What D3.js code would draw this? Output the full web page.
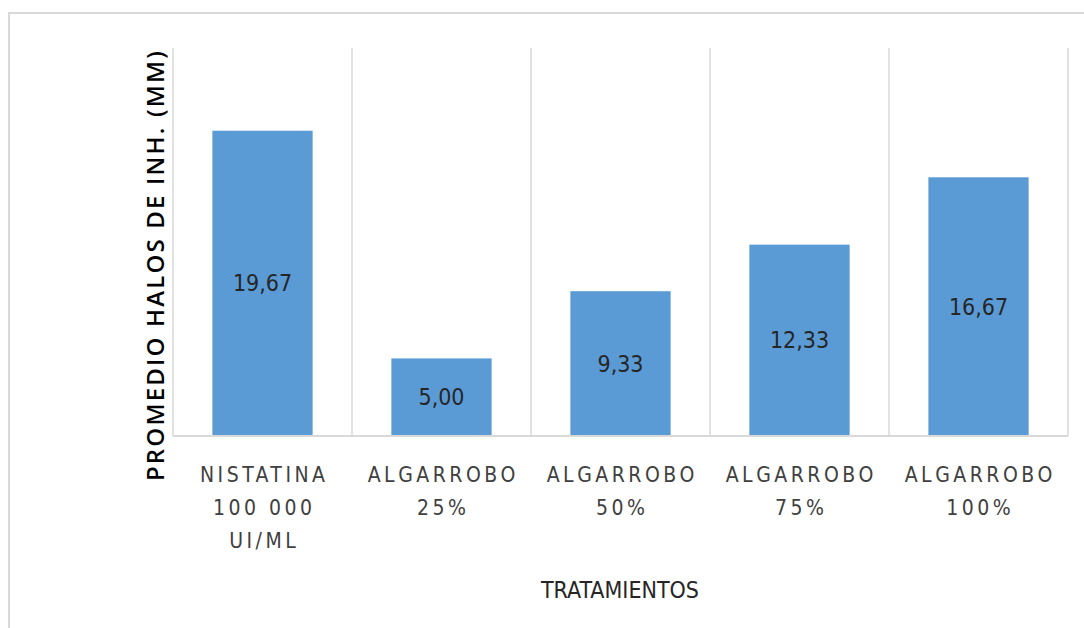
<!DOCTYPE html>
<html><head><meta charset="utf-8">
<script src="https://cdn.jsdelivr.net/npm/d3@7"></script>
<style>body{margin:0;background:#fff;} svg{display:block;}</style>
</head><body><svg id="c" width="1084" height="628"></svg>
<script>
const categories = [["NISTATINA","100 000","UI/ML"],["ALGARROBO","25%"],["ALGARROBO","50%"],["ALGARROBO","75%"],["ALGARROBO","100%"]];
const values = [19.67, 5.00, 9.33, 12.33, 16.67];
const valueLabels = ["19,67","5,00","9,33","12,33","16,67"];
const yTitle = "PROMEDIO HALOS DE INH. (MM)";
const xTitle = "TRATAMIENTOS";

const svg = d3.select("#c");
const font = "'Liberation Sans Narrow','DejaVu Sans Condensed',sans-serif";
// frame
svg.append("rect").attr("x",9).attr("y",13).attr("width",1090).attr("height",640)
  .attr("fill","none").attr("stroke","#d9d9d9").attr("stroke-width",2);

const m = {l:173, r:1068, t:48, b:436};
const x = d3.scaleBand().domain(d3.range(categories.length)).range([m.l,m.r]).paddingInner(0.44).paddingOuter(0.22);
const y = d3.scaleLinear().domain([0,25]).range([m.b,m.t]);

// category separators
const edges = d3.range(categories.length+1).map(i => m.l + i*(m.r-m.l)/categories.length);
svg.append("g").selectAll("line").data(edges).join("line")
  .attr("x1",d=>d).attr("x2",d=>d).attr("y1",m.t).attr("y2",m.b)
  .attr("stroke","#d9d9d9").attr("stroke-width",1.5);

svg.append("g").selectAll("rect").data(values).join("rect")
  .attr("x",(d,i)=>x(i)).attr("width",x.bandwidth())
  .attr("y",d=>y(d)).attr("height",d=>m.b-y(d)).attr("fill","#5b9bd5");

svg.append("line").attr("x1",m.l).attr("x2",m.r).attr("y1",m.b).attr("y2",m.b)
  .attr("stroke","#d9d9d9").attr("stroke-width",2);

svg.append("g").selectAll("text").data(values).join("text")
  .attr("x",(d,i)=>x(i)+x.bandwidth()/2).attr("y",d=>(y(d)+m.b)/2)
  .attr("text-anchor","middle").attr("dominant-baseline","central")
  .attr("font-family",font).attr("font-size",23).attr("fill","#262626")
  .text((d,i)=>valueLabels[i]);

const cg = svg.append("g");
categories.forEach((lines,i)=>{
  const t = cg.append("text").attr("text-anchor","middle")
    .attr("font-family",font).attr("font-size",21).attr("fill","#404040")
    .attr("letter-spacing","3.5px");
  lines.forEach((ln,j)=>{
    t.append("tspan").attr("x",x(i)+x.bandwidth()/2+1.75).attr("y",482+j*33).text(ln);
  });
});

const yt = svg.append("text").attr("transform","translate(164,265) rotate(-90)")
  .attr("text-anchor","middle").attr("font-family","'Open Sans','Liberation Sans',sans-serif")
  .attr("font-size",24).attr("font-weight",600).attr("fill","#000")
  .text(yTitle);
const len = yt.node().getComputedTextLength();
const target = 430;
const ls = (target - len) / (yTitle.length - 1);
yt.attr("letter-spacing", ls + "px");

svg.append("text").attr("x",620).attr("y",598).attr("text-anchor","middle")
  .attr("font-family",font).attr("font-size",23).attr("fill","#262626").text(xTitle);
</script></body></html>
